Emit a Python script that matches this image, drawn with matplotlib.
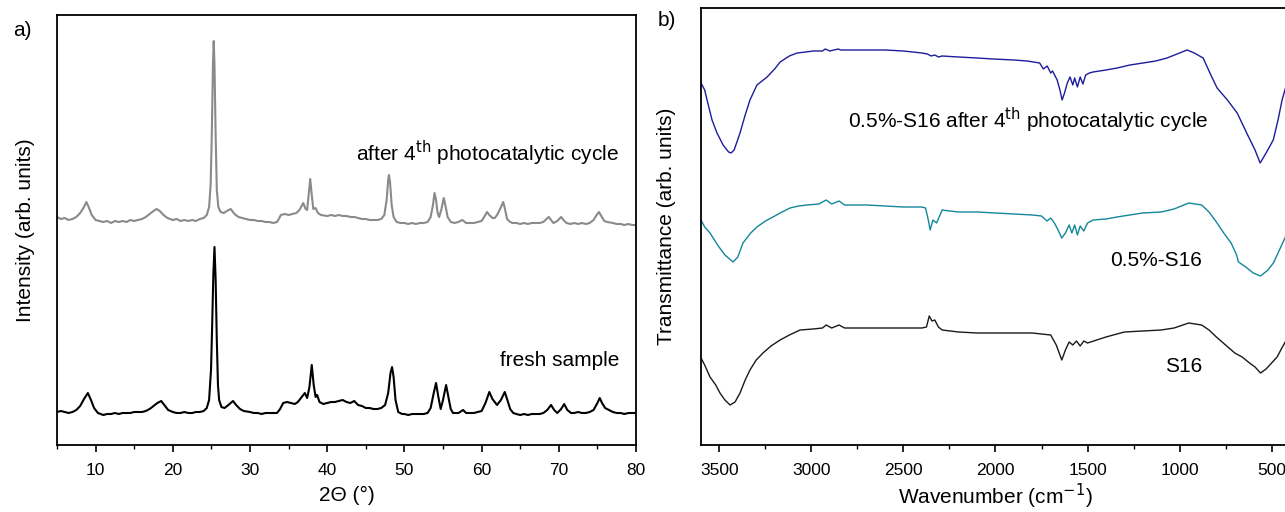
import matplotlib
matplotlib.use('Agg')
import matplotlib.pyplot as plt
from matplotlib.ticker import MultipleLocator

plt.rcParams['font.family'] = ['Liberation Sans', 'DejaVu Sans']

# ---- a) XRD patterns (2theta in degrees, intensity in arb. units) ----
xrd_after_x = [5.0, 5.5, 6.0, 6.5, 7.0, 7.5, 8.0, 8.5, 8.8, 9.1, 9.5, 10.0, 10.5, 11.0, 11.5, 12.0,
               12.5, 13.0, 13.5, 14.0, 14.5, 15.0, 15.5, 16.0, 16.5, 17.0, 17.5, 17.9, 18.3, 18.8,
               19.3, 20.0, 20.5, 21.0, 21.5, 22.0, 22.5, 23.0, 23.5, 24.0, 24.4, 24.7, 24.9, 25.05,
               25.2, 25.3, 25.4, 25.55, 25.7, 25.9, 26.2, 26.6, 27.0, 27.5, 28.0, 28.5, 29.0, 29.5,
               30.0, 30.5, 31.0, 31.5, 32.0, 32.5, 33.0, 33.5, 33.8, 34.0, 34.5, 35.0, 35.5, 36.0,
               36.4, 36.9, 37.2, 37.4, 37.6, 37.8, 38.0, 38.2, 38.5, 38.8, 39.2, 40.0, 40.5, 41.0,
               41.5, 42.0, 42.5, 43.0, 43.5, 44.0, 44.5, 45.0, 45.5, 46.0, 46.5, 47.0, 47.4, 47.7,
               47.9, 48.0, 48.15, 48.35, 48.6, 49.0, 49.5, 50.0, 50.5, 51.0, 51.5, 52.0, 52.5, 53.0,
               53.4, 53.7, 53.9, 54.1, 54.3, 54.5, 54.8, 55.1, 55.3, 55.6, 56.0, 56.5, 57.0, 57.5,
               58.0, 58.5, 59.0, 59.5, 60.0, 60.4, 60.7, 61.0, 61.4, 61.7, 62.0, 62.4, 62.8, 63.0,
               63.3, 63.7, 64.0, 64.5, 65.0, 65.5, 66.0, 66.5, 67.0, 67.5, 68.0, 68.4, 68.7, 69.0,
               69.3, 69.8, 70.3, 70.6, 71.0, 71.5, 72.0, 72.5, 73.0, 73.5, 74.0, 74.5, 74.9, 75.2,
               75.5, 75.9, 76.3, 77.0, 77.5, 78.0, 78.5, 79.0, 79.5, 80.0]
xrd_after_y = [228, 226, 227, 225, 226, 228, 232, 238, 243, 238, 230, 225, 224, 223, 224, 222,
               224, 223, 224, 223, 225, 224, 225, 226, 228, 231, 234, 236, 234, 230,
               227, 225, 226, 224, 225, 224, 225, 224, 226, 227, 230, 238, 260, 310,
               380, 404, 380, 310, 255, 238, 233, 232, 234, 236, 231, 228, 227, 226,
               225, 225, 224, 224, 223, 223, 222, 223, 227, 230, 231, 230, 231, 232,
               235, 242, 236, 235, 250, 266, 250, 236, 237, 232, 230, 229, 230, 229,
               230, 229, 229, 228, 228, 227, 226, 226, 225, 225, 225, 226, 230, 245,
               265, 270, 262, 240, 228, 223, 222, 222, 221, 222, 221, 222, 222, 223,
               228, 240, 252, 245, 232, 228, 236, 247, 240, 228, 223, 222, 223, 225,
               222, 222, 222, 223, 224, 229, 233, 230, 227, 227, 230, 236, 243, 237,
               226, 223, 222, 222, 221, 222, 221, 222, 222, 222, 223, 226, 228, 225,
               222, 224, 228, 225, 222, 221, 222, 221, 222, 221, 222, 225, 230, 233,
               229, 224, 223, 222, 221, 221, 220, 221, 220, 220]

xrd_fresh_x = [5.0, 5.5, 6.0, 6.5, 7.0, 7.5, 8.0, 8.5, 9.0, 9.4, 9.8, 10.3, 11.0, 11.5, 12.0, 12.5,
               13.0, 13.5, 14.0, 14.5, 15.0, 15.5, 16.0, 16.5, 17.0, 17.5, 18.0, 18.5, 18.9, 19.4,
               20.0, 20.5, 21.0, 21.5, 22.0, 22.5, 23.0, 23.5, 24.0, 24.4, 24.7, 24.95, 25.1, 25.25,
               25.4, 25.55, 25.7, 25.85, 26.0, 26.3, 26.7, 27.2, 27.8, 28.2, 28.7, 29.2, 30.0, 30.5,
               31.0, 31.5, 32.0, 32.5, 33.0, 33.5, 33.9, 34.3, 34.8, 35.3, 35.8, 36.2, 36.7, 37.1,
               37.4, 37.7, 38.0, 38.25, 38.5, 38.7, 39.0, 39.5, 40.0, 40.5, 41.0, 41.5, 42.0, 42.5,
               43.0, 43.5, 44.0, 44.5, 45.0, 45.5, 46.0, 46.5, 47.0, 47.5, 47.9, 48.2, 48.4, 48.6,
               48.85, 49.2, 49.7, 50.0, 50.5, 51.0, 51.5, 52.0, 52.5, 53.0, 53.4, 53.8, 54.1, 54.4,
               54.7, 55.0, 55.4, 55.7, 56.0, 56.3, 57.0, 57.6, 58.0, 58.5, 59.0, 59.5, 60.0, 60.5,
               61.0, 61.4, 62.0, 62.5, 63.0, 63.3, 63.7, 64.1, 64.5, 65.0, 65.5, 66.0, 66.5, 67.0,
               67.5, 68.0, 68.5, 69.0, 69.4, 69.8, 70.3, 70.7, 71.1, 71.6, 72.0, 72.5, 73.0, 73.5,
               74.0, 74.5, 75.0, 75.3, 75.6, 76.0, 76.5, 77.0, 77.5, 78.0, 78.5, 79.0, 79.5, 80.0]
xrd_fresh_y = [33, 34, 33, 32, 33, 35, 39, 46, 52, 45, 37, 32, 30, 31, 31, 32,
               31, 32, 32, 32, 33, 33, 33, 34, 36, 39, 42, 44, 40, 35,
               33, 32, 32, 33, 32, 32, 33, 33, 34, 37, 45, 75, 120, 170,
               198, 165, 105, 60, 45, 38, 37, 40, 44, 40, 36, 34, 33, 32,
               32, 31, 32, 32, 32, 32, 36, 42, 43, 42, 41, 43, 48, 52,
               47, 58, 80, 60, 48, 50, 43, 41, 42, 43, 43, 44, 45, 43,
               42, 44, 40, 39, 37, 37, 36, 36, 37, 40, 52, 72, 78, 68,
               45, 33, 31, 31, 30, 31, 31, 31, 31, 32, 37, 52, 62, 48,
               36, 45, 60, 48, 36, 32, 32, 35, 32, 32, 32, 33, 34, 42,
               53, 46, 40, 45, 53, 46, 36, 32, 31, 30, 31, 30, 31, 31,
               31, 32, 35, 40, 35, 32, 36, 41, 35, 32, 32, 33, 32, 32,
               33, 35, 42, 47, 42, 37, 35, 33, 32, 32, 31, 32, 32, 32]

# ---- b) FTIR spectra (wavenumber in cm-1, transmittance in arb. units) ----
ir_after_x = [3600, 3580, 3567, 3540, 3513, 3480, 3450, 3437, 3420, 3388, 3360, 3334, 3296, 3241,
              3200, 3170, 3120, 3078, 3030, 2991, 2940, 2925, 2900, 2855, 2840, 2800, 2700, 2600,
              2500, 2400, 2370, 2350, 2330, 2310, 2290, 2200, 2100, 2013, 1900, 1828, 1760, 1740,
              1719, 1700, 1690, 1665, 1650, 1638, 1625, 1610, 1595, 1580, 1570, 1555, 1540, 1525,
              1510, 1490, 1470, 1400, 1339, 1270, 1198, 1130, 1068, 1000, 959, 920, 872, 830,
              796, 740, 687, 630, 590, 562, 530, 491, 465, 443, 420]
ir_after_y = [362, 355, 345, 325, 312, 300, 293, 292, 295, 312, 330, 345, 360, 368,
              376, 383, 389, 392, 393, 394, 394, 396, 394, 396, 395, 395, 395, 395,
              394, 392, 391, 389, 390, 388, 389, 388, 387, 386, 385, 384, 382, 376,
              379, 372, 374, 365, 355, 345, 352, 362, 368, 360, 367, 358, 368, 361,
              370, 372, 373, 375, 377, 380, 382, 384, 387, 392, 395, 392, 387, 370,
              357, 345, 332, 310, 295, 282, 292, 305, 325, 345, 360]

ir_fresh_x = [3600, 3580, 3551, 3510, 3470, 3426, 3400, 3372, 3330, 3296, 3250, 3209, 3160, 3116,
              3070, 3024, 2960, 2920, 2890, 2850, 2820, 2700, 2600, 2500, 2400, 2380, 2365, 2355,
              2340, 2320, 2290, 2250, 2200, 2100, 2000, 1900, 1800, 1750, 1720, 1700, 1680, 1660,
              1640, 1620, 1600, 1585, 1570, 1555, 1540, 1520, 1500, 1470, 1400, 1340, 1270, 1200,
              1100, 1030, 950, 880, 840, 800, 760, 720, 690, 680, 640, 600, 560, 520,
              490, 470, 450, 420]
ir_fresh_y = [225, 218, 212, 200, 190, 183, 188, 202, 212, 218, 224, 228, 233, 237,
              239, 240, 241, 245, 241, 244, 240, 240, 239, 238, 238, 237, 225, 215,
              225, 222, 235, 234, 233, 233, 232, 231, 230, 229, 224, 227, 222, 215,
              207, 212, 220, 212, 220, 210, 219, 214, 222, 225, 226, 228, 230, 232,
              233, 236, 242, 240, 233, 223, 212, 202, 190, 183, 178, 172, 169, 175,
              182, 190, 198, 210]

ir_s16_x = [3600, 3580, 3551, 3520, 3497, 3470, 3442, 3415, 3388, 3360, 3334, 3300, 3263, 3220,
            3170, 3120, 3062, 2991, 2940, 2920, 2890, 2850, 2820, 2700, 2600, 2500, 2400, 2375,
            2360, 2345, 2330, 2310, 2290, 2200, 2100, 2000, 1900, 1800, 1750, 1700, 1670, 1640,
            1620, 1600, 1580, 1560, 1540, 1520, 1500, 1450, 1400, 1300, 1200, 1100, 1030, 950,
            880, 840, 800, 750, 700, 660, 620, 590, 560, 530, 500, 470, 450, 420]
ir_s16_y = [87, 80, 68, 60, 52, 45, 40, 43, 52, 65, 75, 85, 92, 99,
            105, 110, 115, 116, 117, 120, 117, 120, 117, 117, 117, 117, 117, 118,
            129, 124, 125, 118, 115, 113, 112, 112, 112, 112, 111, 110, 100, 85,
            95, 103, 100, 104, 99, 104, 102, 105, 108, 113, 114, 115, 117, 122,
            120, 115, 108, 100, 92, 88, 82, 78, 72, 76, 82, 88, 95, 105]

fig = plt.figure(figsize=(12.85, 5.12), dpi=100)
W, H = 1285.0, 512.0
fs = 15

# left panel
ax1 = fig.add_axes([57 / W, 67 / H, 579 / W, 430 / H])
ax1.plot(xrd_after_x, xrd_after_y, color='#8a8a8a', lw=1.5)
ax1.plot(xrd_fresh_x, xrd_fresh_y, color='black', lw=1.5)
ax1.set_xlim(5, 80)
ax1.set_ylim(0, 430)
ax1.xaxis.set_major_locator(MultipleLocator(10))
ax1.xaxis.set_minor_locator(MultipleLocator(5))
ax1.set_yticks([])
ax1.set_xlabel('2\u0398 (\u00b0)', fontsize=fs, labelpad=6)
ax1.set_ylabel('Intensity (arb. units)', fontsize=fs, labelpad=16)
ax1.text(77.8, 292, 'after 4$^{\\rm th}$ photocatalytic cycle', fontsize=fs, ha='right', va='center')
ax1.text(77.8, 85, 'fresh sample', fontsize=fs, ha='right', va='center')
fig.text(13 / W, 1 - 30 / H, 'a)', fontsize=fs, va='center')

# right panel, cut off at the right edge of the figure
ax2 = fig.add_axes([701 / W, 67 / H, 589 / W, 437 / H])
ax2.plot(ir_after_x, ir_after_y, color='#1c1c9c', lw=1.0)
ax2.plot(ir_fresh_x, ir_fresh_y, color='#12879a', lw=1.0)
ax2.plot(ir_s16_x, ir_s16_y, color='#1a1a1a', lw=1.0)
ax2.set_xlim(3600, 400)
ax2.set_ylim(0, 437)
ax2.xaxis.set_major_locator(MultipleLocator(500))
ax2.xaxis.set_minor_locator(MultipleLocator(250))
ax2.set_yticks([])
ax2.set_xlabel('Wavenumber (cm$^{-1}$)', fontsize=fs, labelpad=3)
ax2.set_ylabel('Transmittance (arb. units)', fontsize=fs, labelpad=18)
ax2.text(1820, 325, '0.5%-S16 after 4$^{\\rm th}$ photocatalytic cycle', fontsize=fs, ha='center', va='center')
ax2.text(877, 185, '0.5%-S16', fontsize=fs, ha='right', va='center')
ax2.text(877, 78, 'S16', fontsize=fs, ha='right', va='center')
fig.text(658 / W, 1 - 20 / H, 'b)', fontsize=fs, va='center')

for ax in (ax1, ax2):
    for s in ax.spines.values():
        s.set_linewidth(1.3)
    ax.tick_params(axis='x', which='major', direction='out', length=5, width=1.2, labelsize=12.5, pad=8)
    ax.tick_params(axis='x', which='minor', direction='out', length=3, width=1.0)

fig.savefig('out.png', dpi=100)
